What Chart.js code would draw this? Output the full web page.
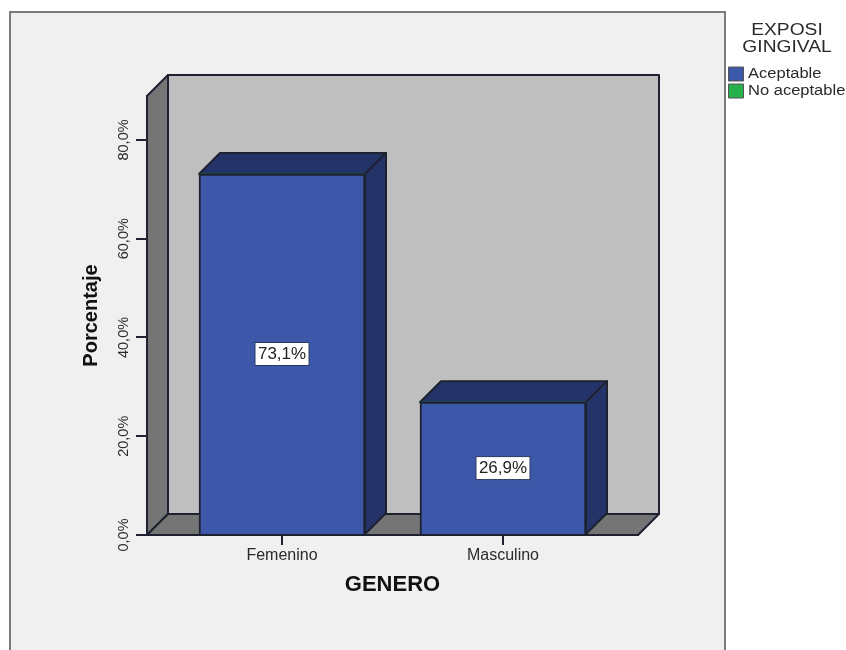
<!DOCTYPE html>
<html>
<head>
<meta charset="utf-8">
<title>Exposición gingival por género</title>
<script src="https://cdn.jsdelivr.net/npm/chart.js@4"></script>
<style>
    html, body { margin: 0; padding: 0; background: #fff; }
    #wrap { position: relative; width: 846px; height: 650px; overflow: hidden; }
</style>
</head>
<body>
<div id="wrap"><canvas id="grafico" width="846" height="650"></canvas></div>
<script>
// Datos
const categorias = ['Femenino', 'Masculino'];
const valoresAceptable = [73.1, 26.9];
const valoresNoAceptable = [0, 0];
const tituloLeyenda = ['EXPOSI', 'GINGIVAL'];
const etiquetasLeyenda = ['Aceptable', 'No aceptable'];
const marcasY = [0, 20, 40, 60, 80];

const AZUL = '#3e58a9';
const AZUL_OSCURO = '#243469';
const VERDE = '#27b14c';
const BORDE = '#1d2130';
const PROF = 21; // profundidad del efecto 3D

const formato = v => v.toFixed(1).replace('.', ',') + '%';

function cara(ctx, puntos, color) {
    ctx.beginPath();
    puntos.forEach((p, i) => i ? ctx.lineTo(p[0], p[1]) : ctx.moveTo(p[0], p[1]));
    ctx.closePath();
    ctx.fillStyle = color;
    ctx.fill();
    ctx.strokeStyle = BORDE;
    ctx.lineWidth = 2;
    ctx.lineJoin = 'round';
    ctx.stroke();
}

// Texto estirado en horizontal, como en la imagen original
function textoEstirado(ctx, texto, x, y, escala) {
    ctx.save();
    ctx.translate(x, y);
    ctx.scale(escala, 1);
    ctx.fillText(texto, 0, 0);
    ctx.restore();
}

const fondo3D = {
    id: 'fondo3D',
    beforeDraw(chart) {
        const ctx = chart.ctx;
        // panel gris del gráfico
        ctx.fillStyle = '#f0f0f0';
        ctx.fillRect(10, 12, 715, 650);
        ctx.strokeStyle = '#7c7c7c';
        ctx.lineWidth = 2;
        ctx.strokeRect(10, 12, 715, 660);
    },
    beforeDatasetsDraw(chart) {
        const ctx = chart.ctx;
        const { left, right } = chart.scales.x;
        const y = chart.scales.y;
        const base = y.getPixelForValue(0);
        const tope = y.getPixelForValue(y.max);

        // paredes: fondo, lateral y suelo
        cara(ctx, [[left + PROF, tope - PROF], [right + PROF, tope - PROF], [right + PROF, base - PROF], [left + PROF, base - PROF]], '#bfbfbf');
        cara(ctx, [[left, tope], [left + PROF, tope - PROF], [left + PROF, base - PROF], [left, base]], '#757575');
        cara(ctx, [[left, base], [left + PROF, base - PROF], [right + PROF, base - PROF], [right, base]], '#757575');

        // caras superior y lateral de cada barra
        chart.getDatasetMeta(0).data.forEach(b => {
            const izq = b.x - b.width / 2;
            const der = b.x + b.width / 2;
            cara(ctx, [[izq, b.y], [izq + PROF, b.y - PROF], [der + PROF, b.y - PROF], [der, b.y]], AZUL_OSCURO);
            cara(ctx, [[der, b.y], [der + PROF, b.y - PROF], [der + PROF, b.base - PROF], [der, b.base]], AZUL_OSCURO);
        });
    },
    afterDatasetsDraw(chart) {
        const ctx = chart.ctx;
        // etiquetas de valor en el centro de cada barra
        ctx.font = '16px "Liberation Sans"';
        ctx.textAlign = 'center';
        ctx.textBaseline = 'middle';
        chart.getDatasetMeta(0).data.forEach((b, i) => {
            const cy = (b.y + b.base) / 2;
            ctx.fillStyle = '#fff';
            ctx.strokeStyle = '#2b3a63';
            ctx.lineWidth = 1;
            ctx.fillRect(b.x - 27, cy - 11.5, 54, 23);
            ctx.strokeRect(b.x - 27, cy - 11.5, 54, 23);
            ctx.fillStyle = '#222';
            textoEstirado(ctx, formato(valoresAceptable[i]), b.x, cy + 0.5, 1.06);
        });
    },
    afterDraw(chart) {
        const ctx = chart.ctx;
        // leyenda
        ctx.fillStyle = '#2a2a2a';
        ctx.textBaseline = 'middle';
        ctx.textAlign = 'center';
        ctx.font = '16px "Liberation Sans"';
        tituloLeyenda.forEach((t, i) => textoEstirado(ctx, t, 787, 31 + i * 17, 1.2));
        ctx.textAlign = 'left';
        ctx.font = '14px "Liberation Sans"';
        [AZUL, VERDE].forEach((color, i) => {
            const y = 67 + i * 17;
            ctx.fillStyle = color;
            ctx.strokeStyle = '#555';
            ctx.lineWidth = 1;
            ctx.fillRect(728.5, y, 15, 14);
            ctx.strokeRect(728.5, y, 15, 14);
            ctx.fillStyle = '#2a2a2a';
            textoEstirado(ctx, etiquetasLeyenda[i], 748, y + 7.5, 1.18);
        });
    }
};

new Chart(document.getElementById('grafico').getContext('2d'), {
    type: 'bar',
    data: {
        datasets: [
            { label: etiquetasLeyenda[0], data: valoresAceptable.map((v, i) => ({ x: i, y: v })), backgroundColor: AZUL, borderColor: BORDE, borderWidth: 2, barThickness: 166 },
            { label: etiquetasLeyenda[1], data: valoresNoAceptable.map((v, i) => ({ x: i, y: v })), backgroundColor: VERDE, borderWidth: 0, barThickness: 166 }
        ]
    },
    options: {
        responsive: false,
        animation: false,
        layout: { padding: { left: 79, top: 96, right: 208, bottom: 52 } },
        plugins: { legend: { display: false }, tooltip: { enabled: false } },
        scales: {
            x: {
                type: 'linear',
                stacked: true,
                offset: false,
                min: -0.611,
                max: 1.611,
                border: { color: BORDE, width: 2 },
                grid: { offset: false, drawOnChartArea: false, tickLength: 10, color: BORDE, lineWidth: 2 },
                afterBuildTicks(escala) { escala.ticks = categorias.map((c, i) => ({ value: i })); },
                ticks: {
                    color: '#2a2a2a',
                    font: { family: 'Liberation Sans', size: 16 },
                    padding: 1,
                    maxRotation: 0,
                    autoSkip: false,
                    callback: v => categorias[v]
                },
                title: { display: true, text: 'GENERO', color: '#111', font: { family: 'Liberation Sans', size: 22, weight: 'bold' }, padding: 0 },
                afterFit(escala) { escala.height = 63; }
            },
            y: {
                stacked: true,
                min: 0,
                max: 88.9,
                border: { color: BORDE, width: 2 },
                grid: { drawOnChartArea: false, tickLength: 11, color: BORDE, lineWidth: 2 },
                afterBuildTicks(escala) { escala.ticks = marcasY.map(v => ({ value: v })); },
                ticks: {
                    color: '#2a2a2a',
                    font: { family: 'Liberation Sans', size: 14.5 },
                    minRotation: 90,
                    maxRotation: 90,
                    crossAlign: 'center',
                    padding: -9,
                    callback: v => formato(v)
                },
                title: { display: true, text: 'Porcentaje', color: '#111', font: { family: 'Liberation Sans', size: 20, weight: 'bold' }, padding: 0 },
                afterFit(escala) { escala.width = 68; }
            }
        }
    },
    plugins: [fondo3D]
});
</script>
</body>
</html>
